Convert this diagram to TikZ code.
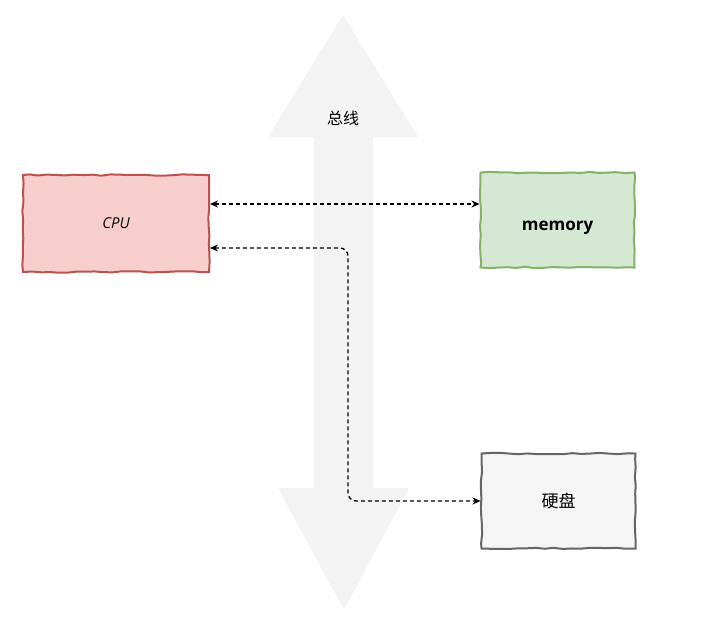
\documentclass[tikz,border=0pt]{standalone}
\usepackage{fontspec}
\setmainfont{Open Sans}
\newfontfamily\cjk{Noto Sans CJK SC}
\usetikzlibrary{arrows.meta, decorations.pathmorphing}
\definecolor{cpufill}{HTML}{F8CECC}
\definecolor{cpuline}{HTML}{B85450}
\definecolor{memfill}{HTML}{D5E8D4}
\definecolor{memline}{HTML}{82B366}
\definecolor{diskfill}{HTML}{F5F5F5}
\definecolor{diskline}{HTML}{666666}
\definecolor{busfill}{HTML}{F3F3F3}
\begin{document}
\begin{tikzpicture}[x=1pt, y=-1pt, >={Stealth[length=8pt, width=7pt]},
  box/.style={draw, line width=2pt, inner sep=0pt, minimum width=154pt, minimum height=95pt,
    decorate, decoration={random steps, segment length=9pt, amplitude=0.7pt}},
  link/.style={<->, line width=1.3pt, dash pattern=on 4pt off 3pt}]
\useasboundingbox (0,0) rectangle (722,622);

% Bus
\fill[busfill] (343,15) -- (418,137) -- (373,137) -- (373,488) -- (409,488) -- (344,610)
  -- (278,488) -- (314,488) -- (314,137) -- (268,137) -- cycle;
\node[font=\cjk\fontsize{16}{19}\selectfont] (bus) at (343,118) {总线};

% Components
\node[box, fill=cpufill, draw=cpuline, minimum width=186pt, minimum height=97pt,
  font=\itshape\fontsize{15}{18}\selectfont] (cpu) at (116,223.5) {CPU};
\node[box, fill=memfill, draw=memline, text height=20pt, text depth=0pt,
  font=\bfseries\fontsize{17}{20}\selectfont] (mem) at (557.5,220) {memory};
\node[box, fill=diskfill, draw=diskline, font=\cjk\fontsize{17}{20}\selectfont] (disk) at (558.5,501) {硬盘};

% Connections
\draw[link] ([yshift=19.5pt]cpu.east) -- ([yshift=19.5pt]cpu.east -| mem.west);
\draw[link, rounded corners=8pt] ([yshift=-24.5pt]cpu.east) -- ++(138,0) |- (disk.west);
\end{tikzpicture}
\end{document}
